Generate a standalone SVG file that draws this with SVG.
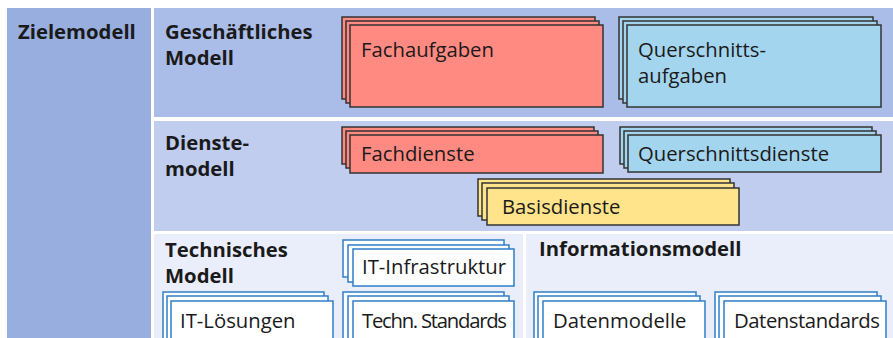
<svg xmlns="http://www.w3.org/2000/svg" width="893" height="338" viewBox="0 0 893 338">
<style>
.lbl{font-family:"Open Sans","Liberation Sans",sans-serif;font-weight:bold;font-size:20.3px;fill:#1a1a1a}
.txt{font-family:"Open Sans","Liberation Sans",sans-serif;font-size:20.3px;fill:#1a1a1a}
.red{fill:#FF8A82;stroke:#333;stroke-width:1.5}
.blu{fill:#A3D5EE;stroke:#333;stroke-width:1.5}
.yel{fill:#FFE48C;stroke:#333;stroke-width:1.5}
.wht{fill:#fff;stroke:#2F7FC8;stroke-width:1.5}
</style>
<rect width="893" height="338" fill="#fff"/>
<g id="panels">
<rect x="7" y="8" width="144" height="330" fill="#97AEDF"/>
<rect x="154" y="8" width="739" height="109" fill="#AABDE8"/>
<rect x="154" y="121" width="739" height="110" fill="#C0CDEF"/>
<rect x="154" y="234" width="369" height="104" fill="#E9EEFA"/>
<rect x="526" y="234" width="367" height="104" fill="#E9EEFA"/>
</g>
<g id="zielemodell"><text class="lbl" x="18" y="39">Zielemodell</text></g>
<g id="geschaeftliches-modell"><text class="lbl" x="165" y="39">Geschäftliches</text><text class="lbl" x="165" y="65">Modell</text></g>
<g id="dienstemodell"><text class="lbl" x="165" y="150">Dienste-</text><text class="lbl" x="165" y="176">modell</text></g>
<g id="technisches-modell"><text class="lbl" x="165" y="257">Technisches</text><text class="lbl" x="165" y="283">Modell</text></g>
<g id="informationsmodell"><text class="lbl" x="539" y="256">Informationsmodell</text></g>
<g id="fachaufgaben">
<rect class="red" x="342" y="17" width="253" height="82"/><rect class="red" x="346" y="21" width="253" height="82"/><rect class="red" x="350" y="25" width="253" height="82"/>
<text class="txt" x="361" y="57">Fachaufgaben</text></g>
<g id="querschnittsaufgaben">
<rect class="blu" x="619" y="17" width="254" height="82"/><rect class="blu" x="623" y="21" width="254" height="82"/><rect class="blu" x="627" y="25" width="254" height="82"/>
<text class="txt" x="638" y="57">Querschnitts-</text><text class="txt" x="638" y="83">aufgaben</text></g>
<g id="fachdienste">
<rect class="red" x="342" y="127" width="252" height="37"/><rect class="red" x="346" y="131" width="252" height="37"/><rect class="red" x="350" y="135" width="253" height="38"/>
<text class="txt" x="361" y="161">Fachdienste</text></g>
<g id="querschnittsdienste">
<rect class="blu" x="620" y="127" width="252" height="37"/><rect class="blu" x="624" y="131" width="252" height="37"/><rect class="blu" x="628" y="135" width="253" height="37"/>
<text class="txt" x="638" y="161">Querschnittsdienste</text></g>
<g id="basisdienste">
<rect class="yel" x="478" y="179" width="252" height="37"/><rect class="yel" x="482" y="183" width="252" height="37"/><rect class="yel" x="487" y="188" width="252" height="37"/>
<text class="txt" x="502" y="214">Basisdienste</text></g>
<g id="it-infrastruktur">
<rect class="wht" x="343" y="240" width="161" height="37"/><rect class="wht" x="348" y="245" width="161" height="37"/><rect class="wht" x="353" y="249" width="161" height="37"/>
<text class="txt" x="362" y="274">IT-Infrastruktur</text></g>
<g id="it-loesungen">
<rect class="wht" x="163" y="292" width="161" height="48"/><rect class="wht" x="167" y="296" width="161" height="48"/><rect class="wht" x="171" y="301" width="162" height="48"/>
<text class="txt" x="180" y="328">IT-Lösungen</text></g>
<g id="techn-standards">
<rect class="wht" x="343" y="292" width="161" height="48"/><rect class="wht" x="348" y="296" width="161" height="48"/><rect class="wht" x="353" y="301" width="161" height="48"/>
<text class="txt" x="362" y="328" textLength="145">Techn. Standards</text></g>
<g id="datenmodelle">
<rect class="wht" x="534" y="292" width="162" height="48"/><rect class="wht" x="538" y="296" width="162" height="48"/><rect class="wht" x="543" y="301" width="162" height="48"/>
<text class="txt" x="553" y="328">Datenmodelle</text></g>
<g id="datenstandards">
<rect class="wht" x="715" y="292" width="162" height="48"/><rect class="wht" x="719" y="296" width="162" height="48"/><rect class="wht" x="724" y="301" width="162" height="48"/>
<text class="txt" x="734" y="328" textLength="146">Datenstandards</text></g>
<g id="connectors"/>
</svg>
